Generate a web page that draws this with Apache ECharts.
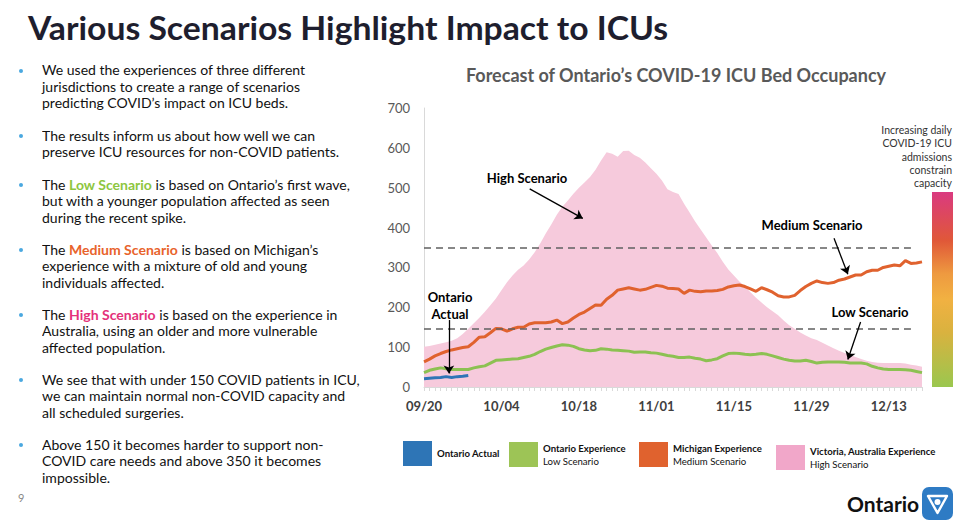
<!DOCTYPE html>
<html>
<head>
<meta charset="utf-8">
<script src="https://cdn.jsdelivr.net/npm/echarts/dist/echarts.min.js"></script>
<style>
html,body{margin:0;padding:0;background:#fff;}
body{width:960px;height:526px;position:relative;overflow:hidden;font-family:Lato,"Noto Sans",sans-serif;}
#chart{position:absolute;left:0;top:0;width:960px;height:526px;z-index:1;}
.title{position:absolute;left:28px;top:8px;font-size:33px;line-height:38px;font-weight:bold;color:#1E1E2E;white-space:nowrap;transform-origin:left top;z-index:2;}
.p{position:absolute;left:42px;font-size:14px;line-height:16.6px;color:#111;white-space:nowrap;transform-origin:left top;z-index:2;}
.dot{position:absolute;left:19px;width:4px;height:4px;border-radius:50%;background:#4AA8E0;z-index:2;}
.lo{color:#8DC63F;font-weight:bold;}
.me{color:#E8632B;font-weight:bold;}
.hi{color:#E4317A;font-weight:bold;}
.pg{position:absolute;left:18px;top:491px;font-size:11px;color:#888;z-index:2;}
.logo{position:absolute;left:847px;top:491px;font-size:21px;font-weight:bold;color:#111;z-index:2;}
.icon{position:absolute;left:922px;top:487px;z-index:2;}
</style>
</head>
<body>
<div id="chart"></div>
<div class="title" id="title">Various Scenarios Highlight Impact to ICUs</div>

<div class="dot" style="top:69px"></div>
<div class="p" style="top:62px">We used the experiences of three different<br>jurisdictions to create a range of scenarios<br>predicting COVID’s impact on ICU beds.</div>

<div class="dot" style="top:134px"></div>
<div class="p" style="top:127.5px">The results inform us about how well we can<br>preserve ICU resources for non-COVID patients.</div>

<div class="dot" style="top:183px"></div>
<div class="p" id="ref" style="top:176.5px">The <span class="lo">Low Scenario</span> is based on Ontario’s first wave,<br>but with a younger population affected as seen<br>during the recent spike.</div>

<div class="dot" style="top:248px"></div>
<div class="p" style="top:241.5px">The <span class="me">Medium Scenario</span> is based on Michigan’s<br>experience with a mixture of old and young<br>individuals affected.</div>

<div class="dot" style="top:313px"></div>
<div class="p" style="top:306.5px">The <span class="hi">High Scenario</span> is based on the experience in<br>Australia, using an older and more vulnerable<br>affected population.</div>

<div class="dot" style="top:378px"></div>
<div class="p" style="top:371.5px">We see that with under 150 COVID patients in ICU,<br>we can maintain normal non-COVID capacity and<br>all scheduled surgeries.</div>

<div class="dot" style="top:443px"></div>
<div class="p" style="top:436.5px">Above 150 it becomes harder to support non-<br>COVID care needs and above 350 it becomes<br>impossible.</div>

<div class="pg">9</div>
<div class="logo">Ontario</div>
<svg class="icon" width="31" height="33" viewBox="0 0 31 33">
  <rect x="0" y="0" width="31" height="33" rx="7" fill="#2E7BC4"/>
  <path d="M6 9 L25 9 L15.5 26 Z" fill="none" stroke="#fff" stroke-width="2.4" stroke-linejoin="round"/>
  <circle cx="15.5" cy="15" r="3" fill="#fff"/>
</svg>

<script>
// ---- data ----
const startDate = new Date(2020, 8, 20);
const dayCount = 91;
const dates = [];
for (let i = 0; i < dayCount; i++) {
  const d = new Date(startDate.getFullYear(), startDate.getMonth(), startDate.getDate() + i);
  dates.push(String(d.getMonth() + 1).padStart(2, '0') + '/' + String(d.getDate()).padStart(2, '0'));
}
const ontarioActual = [21,22,23,24,26,24,26,27,29];
const ontarioExperience = [36,42,45,48,46,44,44,44,44,48,
  51,53,60,67,68,69,70,71,74,77,
  82,89,95,99,103,106,105,102,96,93,
  91,92,96,95,93,92,91,90,87,88,
  88,86,85,82,79,77,74,74,75,72,
  70,66,68,71,78,84,85,84,82,81,
  82,84,82,78,74,70,67,65,65,67,
  64,60,62,63,63,63,62,60,60,60,
  58,52,48,45,44,44,44,43,42,39,36];
const michiganExperience = [63,70,78,84,89,93,96,99,101,112,
  125,126,136,147,146,140,146,150,150,158,
  161,161,161,163,168,159,163,173,182,188,
  197,206,205,220,230,243,246,249,246,243,
  245,250,255,253,248,247,246,235,243,240,
  239,241,241,242,245,251,254,256,252,246,
  240,249,244,238,229,226,226,230,242,252,
  260,266,262,260,262,268,271,276,281,281,
  289,293,293,300,303,306,304,317,310,311,314];
const victoriaExperience = [101,103,106,109,112,116,122,133,146,160,
  174,189,205,222,243,263,280,294,305,320,
  338,360,385,408,432,452,468,485,500,513,
  527,545,568,589,585,578,592,593,582,575,
  563,549,535,518,496,489,484,460,438,415,
  395,375,355,336,314,295,280,265,252,238,
  224,212,200,190,180,167,155,146,137,129,
  122,118,111,104,97,91,85,80,75,70,
  66,63,61,60,60,60,60,59,56,54,51];
const thresholds = [145, 350];
const thresholdEnd = 88;
const yMin = 0, yMax = 700, yInterval = 100;
const seriesNames = ['Ontario Actual', 'Ontario Experience', 'Michigan Experience', 'Victoria, Australia Experience'];
const legendSub = {'Ontario Experience':'Low Scenario','Michigan Experience':'Medium Scenario','Victoria, Australia Experience':'High Scenario'};
// annotation arrows [startDay, startValue, endDay, endValue]
const arrows = [
  [19.1, 497, 28.7, 423],
  [4.5, 168, 4.5, 34],
  [74.1, 373, 76.6, 283],
  [78.9, 163, 76.6, 69]
];

const C = {blue:'#2E75B6', green:'#8CC152', orange:'#E0622E', pink:'#F6CADC', pinkLeg:'#F1A7C9'};
const F = 'Lato, "Noto Sans", sans-serif';

function legendAt(name, color, left, top) {
  return {
    left: left, top: top, orient:'horizontal', selectedMode:false, padding:0,
    icon:'rect', itemWidth:29, itemHeight:25, itemGap:0,
    data:[{name:name, itemStyle:{color:color, borderWidth:0}}],
    formatter: function(n){ return legendSub[n] ? '{b|' + n + '}\n{n|' + legendSub[n] + '}' : '{b|' + n + '}'; },
    textStyle:{ rich:{
      b:{fontFamily:F, fontWeight:'bold', fontSize:9.6, lineHeight:13, color:'#111'},
      n:{fontFamily:F, fontSize:9.6, lineHeight:13, color:'#111'} } }
  };
}

const chart = echarts.init(document.getElementById('chart'), null, {renderer:'svg'});
chart.setOption({
  animation:false,
  grid:{left:424, right:38, top:108, bottom:139, containLabel:false},
  xAxis:[{
    type:'category', data:dates, boundaryGap:false,
    axisLine:{lineStyle:{color:'#D9D9D9', width:1}},
    axisTick:{show:true, interval:0, length:4, lineStyle:{color:'#D9D9D9'}},
    axisLabel:{interval:13, margin:12, fontFamily:F, fontWeight:'bold', fontSize:13, color:'#404040'}
  },{
    type:'value', min:0, max:dayCount - 1, show:false
  }],
  yAxis:{
    type:'value', min:yMin, max:yMax, interval:yInterval,
    axisLine:{show:true, lineStyle:{color:'#D9D9D9'}}, axisTick:{show:false}, splitLine:{show:false},
    axisLabel:{margin:14, fontFamily:F, fontSize:13, color:'#595959'}
  },
  legend:[
    legendAt(seriesNames[0], C.blue, 403, 441),
    legendAt(seriesNames[1], '#9DC456', 509, 442),
    legendAt(seriesNames[2], C.orange, 639, 442),
    legendAt(seriesNames[3], C.pinkLeg, 776, 445)
  ],
  series:[
    {name:seriesNames[3], type:'line', data:victoriaExperience, showSymbol:false, z:1,
     lineStyle:{width:0}, itemStyle:{color:C.pinkLeg}, areaStyle:{color:C.pink, opacity:1}},
    {name:seriesNames[2], type:'line', data:michiganExperience, showSymbol:false, z:3,
     lineStyle:{width:3, color:C.orange}, itemStyle:{color:C.orange}},
    {name:seriesNames[1], type:'line', data:ontarioExperience, showSymbol:false, z:3,
     lineStyle:{width:3, color:C.green}, itemStyle:{color:C.green},
     markLine:{silent:true, symbol:['none','none'], label:{show:false},
       lineStyle:{color:'#606060', width:1.5, type:[7,5]},
       data: thresholds.map(function(t){ return [{coord:[0, t]}, {coord:[thresholdEnd, t]}]; })}},
    {name:seriesNames[0], type:'line', data:ontarioActual, showSymbol:false, z:4,
     lineStyle:{width:3, color:C.blue}, itemStyle:{color:C.blue}},
    {name:'annotations', type:'line', xAxisIndex:1, data:[], z:5,
     markLine:{silent:true, symbol:['none','arrow'], symbolSize:8, label:{show:false},
       lineStyle:{color:'#000', width:1.3, type:'solid'},
       data: arrows.map(function(a){ return [{coord:[a[0], a[1]]}, {coord:[a[2], a[3]]}]; })}}
  ],
  graphic:[
    {type:'text', x:676, y:75, style:{text:'Forecast of Ontario’s COVID-19 ICU Bed Occupancy', font:'bold 18px ' + F, fill:'#595959', align:'center', verticalAlign:'middle', textAlign:'center', textVerticalAlign:'middle'}},
    {type:'text', x:527, y:178, style:{text:'High Scenario', font:'bold 13px ' + F, fill:'#000', align:'center', verticalAlign:'middle', textAlign:'center', textVerticalAlign:'middle'}},
    {type:'text', x:450, y:305, style:{text:'Ontario\nActual', font:'bold 13px ' + F, lineHeight:17, fill:'#000', align:'center', verticalAlign:'middle', textAlign:'center', textVerticalAlign:'middle'}},
    {type:'text', x:812, y:225, style:{text:'Medium Scenario', font:'bold 13px ' + F, fill:'#000', align:'center', verticalAlign:'middle', textAlign:'center', textVerticalAlign:'middle'}},
    {type:'text', x:870, y:312, style:{text:'Low Scenario', font:'bold 13px ' + F, fill:'#000', align:'center', verticalAlign:'middle', textAlign:'center', textVerticalAlign:'middle'}},
    {type:'text', x:952, y:123, style:{text:'Increasing daily\nCOVID-19 ICU\nadmissions\nconstrain\ncapacity', font:'10.5px ' + F, lineHeight:13.4, fill:'#333', align:'right', verticalAlign:'top', textAlign:'right', textVerticalAlign:'top'}},
    {type:'rect', shape:{x:932, y:192, width:21, height:195},
     style:{fill:new echarts.graphic.LinearGradient(0,0,0,1,[
       {offset:0, color:'#DA3A80'},{offset:0.25, color:'#E05838'},{offset:0.42, color:'#EE9A40'},
       {offset:0.55, color:'#F1B142'},{offset:0.72, color:'#D9B23F'},{offset:1, color:'#9AC74F'}])}}
  ]
});

// fit text widths to the slide's layout
(function(){
  const tmp = document.createElement('span');
  tmp.style.cssText = 'position:absolute;visibility:hidden;white-space:nowrap;font-size:14px;font-family:Lato,"Noto Sans",sans-serif;';
  tmp.innerHTML = 'The <b>Low Scenario</b> is based on Ontario’s first wave,';
  document.body.appendChild(tmp);
  const s = 308 / tmp.getBoundingClientRect().width;
  document.body.removeChild(tmp);
  document.querySelectorAll('.p').forEach(function(el){ el.style.transform = 'scaleX(' + s.toFixed(3) + ')'; });
  const t = document.getElementById('title');
  const tw = t.getBoundingClientRect().width;
  t.style.transform = 'scaleX(' + (640 / tw).toFixed(3) + ')';
})();
</script>
</body>
</html>
